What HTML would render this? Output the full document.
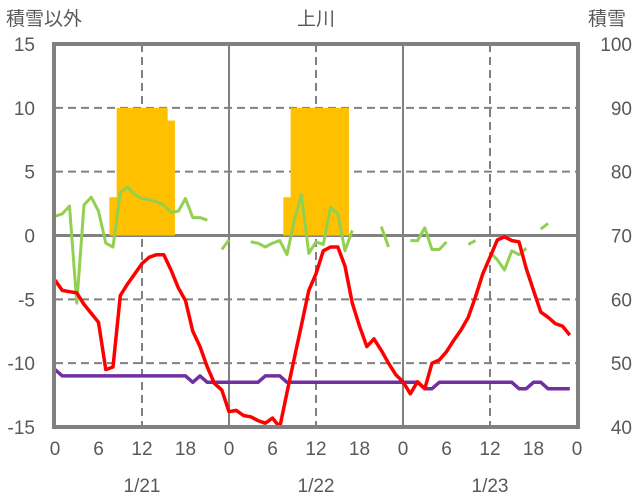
<!DOCTYPE html>
<html><head><meta charset="utf-8"><style>
body{margin:0;background:#fff}
svg{display:block;font-family:"Liberation Sans","Noto Sans CJK JP",sans-serif}
</style></head><body>
<svg id="chart" width="636" height="501" viewBox="0 0 636 501" xmlns="http://www.w3.org/2000/svg">
<text x="316" y="25" text-anchor="middle" font-size="19" fill="#595959">上川</text>
<text x="6" y="25" font-size="19" fill="#595959">積雪以外</text>
<text x="588" y="25" font-size="19" fill="#595959">積雪</text>
<g id="grid"></g><g id="bars"></g><g id="lines"></g><g id="frame"></g><g id="labels"></g>
</svg>
<script>
const leftTicks=[15,10,5,0,-5,-10,-15];
const rightTicks=[100,90,80,70,60,50,40];
const hourTicks=[0,6,12,18];
const dates=["1/21","1/22","1/23"];
const snowHours=[8,9,10,11,12,13,14,15,16,32,33,34,35,36,37,38,39,40];
const snowDepth=[76,90,90,90,90,90,90,90,88,76,90,90,90,90,90,90,90,90];
const temperature=[-3.5,-4.3,-4.4,-4.5,-5.4,-6.1,-6.8,-10.5,-10.3,-4.7,-3.8,-3.0,-2.2,-1.7,-1.5,-1.5,-2.7,-4.1,-5.1,-7.5,-8.7,-10.3,-11.6,-12.1,-13.8,
-13.7,-14.1,-14.2,-14.5,-14.7,-14.3,-15.0,-12.3,-9.6,-7.0,-4.3,-3.0,-1.2,-0.9,-0.9,-2.4,-5.3,-7.1,-8.7,-8.1,-9.0,-10.0,-10.9,
-11.45,-12.4,-11.45,-12.0,-10.0,-9.75,-9.1,-8.2,-7.4,-6.4,-4.8,-3.0,-1.7,-0.35,-0.1,-0.4,-0.5,-2.6,-4.3,-6.0,-6.4,-6.9,-7.1,-7.8];
const seriesB=[-10.5,-11,-11,-11,-11,-11,-11,-11,-11,-11,-11,-11,-11,-11,-11,-11,-11,-11,-11,-11.5,-11,-11.5,-11.5,-11.5,-11.5,
-11.5,-11.5,-11.5,-11.5,-11,-11,-11,-11.5,-11.5,-11.5,-11.5,-11.5,-11.5,-11.5,-11.5,-11.5,-11.5,-11.5,-11.5,-11.5,-11.5,-11.5,-11.5,
-11.5,-11.5,-11.5,-12,-12,-11.5,-11.5,-11.5,-11.5,-11.5,-11.5,-11.5,-11.5,-11.5,-11.5,-11.5,-12,-12,-11.5,-11.5,-12,-12,-12,-12];
const seriesC=[1.5,1.7,2.3,-5.3,2.4,3.0,1.9,-0.6,-0.9,3.4,3.8,3.2,2.9,2.8,2.65,2.4,1.8,1.9,2.9,1.4,1.4,1.2,null,-1.1,-0.35,
null,null,-0.5,-0.6,-0.9,-0.6,-0.4,-1.5,1.2,3.2,-1.4,-0.5,-0.7,2.2,1.7,-1.2,0.4,null,null,null,0.7,-0.9,null,
null,-0.4,-0.4,0.6,-1.1,-1.1,-0.5,null,null,-0.7,-0.4,null,-1.3,-1.9,-2.7,-1.2,-1.5,-1.0,null,0.5,0.95,null,null,null];
const NS="http://www.w3.org/2000/svg";
const X0=55,X1=577,Y0=44,Y1=427;
const xh=h=>X0+h*(X1-X0)/72;
const yl=v=>Y1-(v+15)*(Y1-Y0)/30;
const yr=v=>Y1-(v-40)*(Y1-Y0)/60;
function mk(tag,attrs,parent){const e=document.createElementNS(NS,tag);for(const k in attrs)e.setAttribute(k,attrs[k]);parent.appendChild(e);return e;}
const grid=document.getElementById('grid'),bars=document.getElementById('bars'),lines=document.getElementById('lines'),frame=document.getElementById('frame'),labels=document.getElementById('labels');
leftTicks.forEach(v=>{if(v===15||v===-15||v===0)return;
 const l=mk('line',{x1:X0,x2:X1,y1:yl(v),y2:yl(v),stroke:'#808080','stroke-width':2,'stroke-dasharray':'8,5'},grid);
 
 });
for(let d=0;d<3;d++){
 const l=mk('line',{x1:xh(d*24+12),x2:xh(d*24+12),y1:Y0,y2:Y1,stroke:'#808080','stroke-width':2,'stroke-dasharray':'8,5'},grid);
 
 
 if(d>0){const s=mk('line',{x1:xh(d*24),x2:xh(d*24),y1:Y0,y2:Y1,stroke:'#808080','stroke-width':2},grid);
 
 }
}
snowHours.forEach((h,i)=>{const w=(X1-X0)/72;const y=yr(snowDepth[i]);
 const r=mk('rect',{x:xh(h)-w/2,y:y,width:w+0.3,height:yr(70)-y,fill:'#FFC000'},bars);
 
 });
const zl=mk('line',{x1:X0,x2:X1,y1:yl(0),y2:yl(0),stroke:'#808080','stroke-width':3},grid);


function drawSeries(arr,color,w,name){let d='',pen=false;
 arr.forEach((v,h)=>{if(v===null){pen=false;return;}d+=(pen?'L':'M')+xh(h).toFixed(1)+','+yl(v).toFixed(1);pen=true;});
 const p=mk('path',{d:d,fill:'none',stroke:color,'stroke-width':w,'stroke-linejoin':'round'},lines);
 
 }
drawSeries(seriesC,'#92D050',3,'green-series-line');
drawSeries(seriesB,'#7030A0',3.5,'purple-series-line');
drawSeries(temperature,'#FF0000',3.5,'temperature-line');
const fr=mk('rect',{x:X0-1,y:Y0,width:X1-X0+2,height:Y1-Y0,fill:'none',stroke:'#808080','stroke-width':4},frame);


leftTicks.forEach(v=>{const t=mk('text',{x:35,y:yl(v)+7,'text-anchor':'end','font-size':19,fill:'#595959'},labels);t.textContent=v;
 
 });
rightTicks.forEach(v=>{const t=mk('text',{x:632,y:yr(v)+7,'text-anchor':'end','font-size':19,fill:'#595959'},labels);t.textContent=v;
 
 });
for(let d=0;d<=3;d++){hourTicks.forEach(h=>{if(d===3&&h>0)return;
 const t=mk('text',{x:xh(d*24+h),y:455,'text-anchor':'middle','font-size':19,fill:'#595959'},labels);t.textContent=h;
 
 });}
dates.forEach((s,d)=>{const t=mk('text',{x:xh(d*24+12),y:492,'text-anchor':'middle','font-size':19,fill:'#595959'},labels);t.textContent=s;
 
 });
</script>
</body></html>
